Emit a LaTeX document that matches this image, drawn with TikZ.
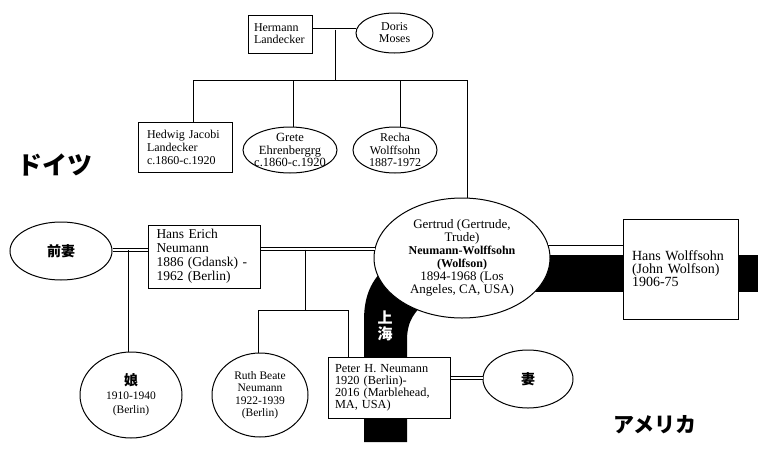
\documentclass[tikz,border=0pt]{standalone}
\usepackage{fontspec}
\setmainfont{Liberation Serif}
\newfontfamily\jp{Noto Sans CJK JP}
\usetikzlibrary{shapes.geometric}
\newlength\jwlen
\newcommand\myfs[2]{\fontsize{#1}{#2}\selectfont}
\begin{document}
\begin{tikzpicture}[x=1pt,y=-1pt,
  pers/.style={draw, line width=1pt, fill=white},
  pbox/.style={pers, rectangle, inner sep=0pt, align=left},
  pell/.style={pers, ellipse, inner sep=-12pt, align=center},
  marr/.style={draw, line width=0.8pt, double=white, double distance=2pt},
  kin/.style={draw, line width=0.6pt},
  band/.style={fill=black},
  region/.style={font=\jp\bfseries}
]
\useasboundingbox (0,0) rectangle (762,453);
% black bands
\fill[band] (500,255) rectangle (758,292);
\fill[band] (364,442) -- (364,320) .. controls (364,295) and (372,280) .. (385,268)
  -- (430,300) .. controls (414,310) and (407,322) .. (407,340) -- (407,442) -- cycle;
% persons
\node[pbox, minimum width=64pt, minimum height=38pt, text width=52pt, font=\myfs{12}{12}] (hermann) at (280,34) {Hermann\\Landecker};
\node[pell, minimum width=77pt, minimum height=40pt, font=\myfs{12}{12}] (doris) at (394.5,33) {Doris\\Moses};
\node[pbox, minimum width=94pt, minimum height=50pt, text width=76pt, font=\myfs{12}{13}] (hedwig) at (185,147) {Hedwig Jacobi\\Landecker\\c.1860-c.1920};
\node[pell, minimum width=94pt, minimum height=46pt, font=\myfs{12.5}{12.5}] (grete) at (290,150) {Grete\\Ehrenbergrg\\c.1860-c.1920};
\node[pell, minimum width=84pt, minimum height=46pt, font=\myfs{12}{12.5}] (recha) at (395,150) {Recha\\Wolffsohn\\1887-1972};
\node[pell, minimum width=102pt, minimum height=58pt, font=\jp\bfseries\myfs{14}{14}] (zenzai) at (61,251) {前妻};
\node[pbox, minimum width=112pt, minimum height=63pt, text width=95pt, font=\myfs{13.5}{14}] (hanserich) at (204,256.5) {Hans Erich\\Neumann\\1886 (Gdansk) -\\1962 (Berlin)};
\node[pell, minimum width=176pt, minimum height=120pt, font=\myfs{13}{13}] (gertrud) at (462,258) {Gertrud (Gertrude,\\Trude)\\{\bfseries\myfs{12}{13}Neumann-Wolffsohn}\\{\bfseries\myfs{12}{13}(Wolfson)}\\1894-1968 (Los\\Angeles, CA, USA)};
\node[pbox, minimum width=115pt, minimum height=100pt, text width=97pt, font=\myfs{14}{13}] (hansw) at (680.5,269) {\settowidth{\jwlen}{(John Wolfson)}\makebox[\jwlen][s]{Hans Wolffsohn}\\(John Wolfson)\\1906-75};
\node[pell, minimum width=102pt, minimum height=86pt, font=\myfs{11.5}{14}] (musume) at (131,395) {{\jp\bfseries\myfs{14}{14}娘}\\1910-1940\\(Berlin)};
\node[pell, minimum width=96pt, minimum height=84pt, font=\myfs{11.5}{12.5}] (ruth) at (260,395) {Ruth Beate\\Neumann\\1922-1939\\(Berlin)};
\node[pbox, minimum width=122pt, minimum height=61pt, text width=108pt, font=\myfs{12.3}{12}] (peter) at (389,387.5) {Peter H. Neumann\\1920 (Berlin)-\\\makebox[\linewidth][s]{2016 (Marblehead,}\\MA, USA)};
\node[pell, minimum width=90pt, minimum height=58pt, font=\jp\bfseries\myfs{14}{14}] (tsuma) at (528,379) {妻};
% connectors
\coordinate (j1) at (335,29.5);
\coordinate (j2) at (335,80);
\coordinate (h1) at (193,80);
\coordinate (h2) at (293,80);
\coordinate (h3) at (400,80);
\coordinate (h4) at (467,80);
\draw[marr] (hermann.east |- j1) -- (doris.west |- j1);
\draw[kin] (j1) -- (j2);
\draw[kin] (h1 |- hedwig.north) -- (h1) -- (h4) -- (h4 |- gertrud.north);
\draw[kin] (h2) -- (h2 |- grete.north);
\draw[kin] (h3) -- (h3 |- recha.north);
\coordinate (m1) at (0,250);
\draw[marr] (zenzai.east |- m1) -- (hanserich.west |- m1);
\draw[marr] (hanserich.east |- gertrud.174) -- (gertrud.174);
\draw[marr] (gertrud.9) -- (hansw.west |- gertrud.9);
\coordinate (k1) at (128,250);
\draw[kin] (k1) -- (k1 |- musume.north);
\coordinate (k2) at (305,249.5);
\coordinate (k3) at (305,310);
\coordinate (k4) at (258,310);
\coordinate (k5) at (348,310);
\draw[kin] (k2) -- (k3);
\draw[kin] (k4 |- ruth.north) -- (k4) -- (k5) -- (k5 |- peter.north);
\coordinate (m4) at (0,378);
\draw[marr] (peter.east |- m4) -- (tsuma.west |- m4);
% region labels
\node[region, font=\jp\bfseries\myfs{25}{25}] (germany) at (55,165) {ドイツ};
\node[region, font=\jp\bfseries\myfs{21}{21}] (america) at (655,425) {アメリカ};
\node[region, text=white, align=center, font=\jp\bfseries\myfs{15}{16}] (shanghai) at (385,326) {上\\海};
\end{tikzpicture}
\end{document}
